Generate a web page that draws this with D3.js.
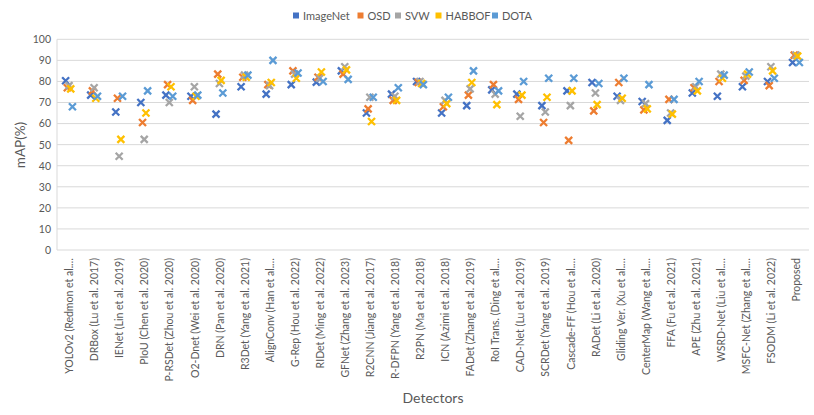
<!DOCTYPE html>
<html><head><meta charset="utf-8">
<script src="https://cdn.jsdelivr.net/npm/d3@7"></script>
<style>body{margin:0;background:#fff}svg{display:block}text{font-family:Lato,"Open Sans",sans-serif;fill:#595959}</style>
</head><body><svg id="c" width="814" height="415"></svg>
<script>
const categories = ["YOLOv2 (Redmon et al.…","DRBox (Lu et al. 2017)","IENet (Lin et al. 2019)","PIoU (Chen et al. 2020)","P-RSDet (Zhou et al. 2020)","O2-Dnet (Wei et al. 2020)","DRN (Pan et al. 2020)","R3Det (Yang et al. 2021)","AlignConv (Han et al.…","G-Rep (Hou et al. 2022)","RIDet (Ming et al. 2022)","GFNet (Zhang et al. 2023)","R2CNN (Jiang et al. 2017)","R-DFPN (Yang et al. 2018)","R2PN (Ma et al. 2018)","ICN (Azimi et al. 2018)","FADet (Zhang et al. 2019)","RoI Trans. (Ding et al.…","CAD-Net (Lu et al. 2019)","SCRDet (Yang et al. 2019)","Cascade-FF (Hou et al.…","RADet (Li et al. 2020)","Gliding Ver. (Xu et al.…","CenterMap (Wang et al.…","FFA (Fu et al. 2021)","APE (Zhu et al. 2021)","WSRD-Net (Liu et al.…","MSFC-Net (Zhang et al.…","FSODM (Li et al. 2022)","Proposed"];
const seriesNames = ["ImageNet","OSD","SVW","HABBOF","DOTA"];
const imagenet = [80.3,73.5,65.5,70,73.5,73,64.5,77.5,74,78.5,79.7,85,65,74,80,65,68.5,76,74,68.5,75.5,79.5,73,70.5,61.5,74.5,73,77.5,80,89];
const osd      = [77,75.5,72,60.5,78.5,71,83.5,82,78.5,85,82,83.5,67,71,79.5,68,73.5,78.5,71.5,60.5,52,66,79.5,66.5,71.5,77,80,80.5,78,92.5];
const svw      = [78,77,44.5,52.5,70,77.5,79,83,78,83.5,81.5,87,72.5,73,80,71,76.5,74,63.5,65.5,68.5,74.5,71,69.5,65,77.5,83.5,82.5,87,92.5];
const habbof   = [76.5,72,52.5,65,77.5,73,80.5,82,79.5,81.5,84.5,85.5,61,71,79,69.5,79.5,69,73.5,72.5,75.5,69,72,67,64.5,75.5,81.5,83.5,85,92];
const dota     = [68,73,73,75.5,73,73.5,74.5,83,90,84,80,81,72.5,77,78.5,72.5,85,75.5,80,81.5,81.5,79,81.5,78.5,71.5,80,83,84.5,81.5,89];
const yTicks = [0,10,20,30,40,50,60,70,80,90,100];
const colors = ["#4472C4","#ED7D31","#A5A5A5","#FFC000","#5B9BD5"];
const seriesValues = [imagenet, osd, svw, habbof, dota];

const svg = d3.select("#c");
const mLeft = 57, mRight = 809, mTop = 39.3, mBottom = 250;
const x = d3.scaleBand().domain(categories).range([mLeft, mRight]);
const y = d3.scaleLinear().domain([0,100]).range([mBottom, mTop]);

// gridlines
svg.append("g").selectAll("line").data(yTicks).join("line")
  .attr("x1", mLeft).attr("x2", mRight)
  .attr("y1", d => y(d)).attr("y2", d => y(d))
  .attr("stroke", "#d9d9d9").attr("stroke-width", 1);
svg.append("line").attr("x1", mLeft).attr("x2", mLeft).attr("y1", mTop).attr("y2", mBottom)
  .attr("stroke", "#d9d9d9");

// y axis
const yAxis = svg.append("g").attr("transform", `translate(${mLeft},0)`)
  .call(d3.axisLeft(y).tickValues(yTicks).tickSize(0).tickPadding(6));
yAxis.select(".domain").remove();
yAxis.selectAll("text").style("font-size", "10.5px").attr("fill", "#595959");

// x axis
const xAxis = svg.append("g").attr("transform", `translate(0,${mBottom})`)
  .call(d3.axisBottom(x).tickSize(0));
xAxis.select(".domain").remove();
xAxis.selectAll("text")
  .style("font-size", "10.5px").attr("fill", "#595959")
  .attr("transform", "rotate(-90)")
  .attr("text-anchor", "end")
  .attr("x", -8).attr("y", 0).attr("dy", "0.35em");

// markers
const s = 3.5;
seriesValues.forEach((vals, i) => {
  const off = (i - 2) * 1.7 - 0.5;
  svg.append("g").selectAll("path").data(vals).join("path")
    .attr("d", (v, j) => {
      const cx = x(categories[j]) + x.bandwidth()/2 + off, cy = y(v);
      return `M${cx-s},${cy-s}L${cx+s},${cy+s}M${cx-s},${cy+s}L${cx+s},${cy-s}`;
    })
    .attr("stroke", colors[i]).attr("stroke-width", 2.3).attr("fill", "none");
});

// legend
const legendX = [293, 357.5, 395, 435.5, 492];
const lg = svg.append("g");
seriesNames.forEach((n, i) => {
  lg.append("rect").attr("x", legendX[i]).attr("y", 12.5).attr("width", 6).attr("height", 6).attr("fill", colors[i]);
  lg.append("text").attr("x", legendX[i] + 10).attr("y", 15.7).attr("dy", "0.35em")
    .style("font-size", "11px").text(n);
});

// axis titles
svg.append("text").attr("transform", "translate(20,145) rotate(-90)").attr("text-anchor", "middle")
  .attr("dy", "0.35em").style("font-size", "13.5px").text("mAP(%)");
svg.append("text").attr("x", 433).attr("y", 398).attr("text-anchor", "middle")
  .attr("dy", "0.35em").style("font-size", "14px").text("Detectors");
</script></body></html>
